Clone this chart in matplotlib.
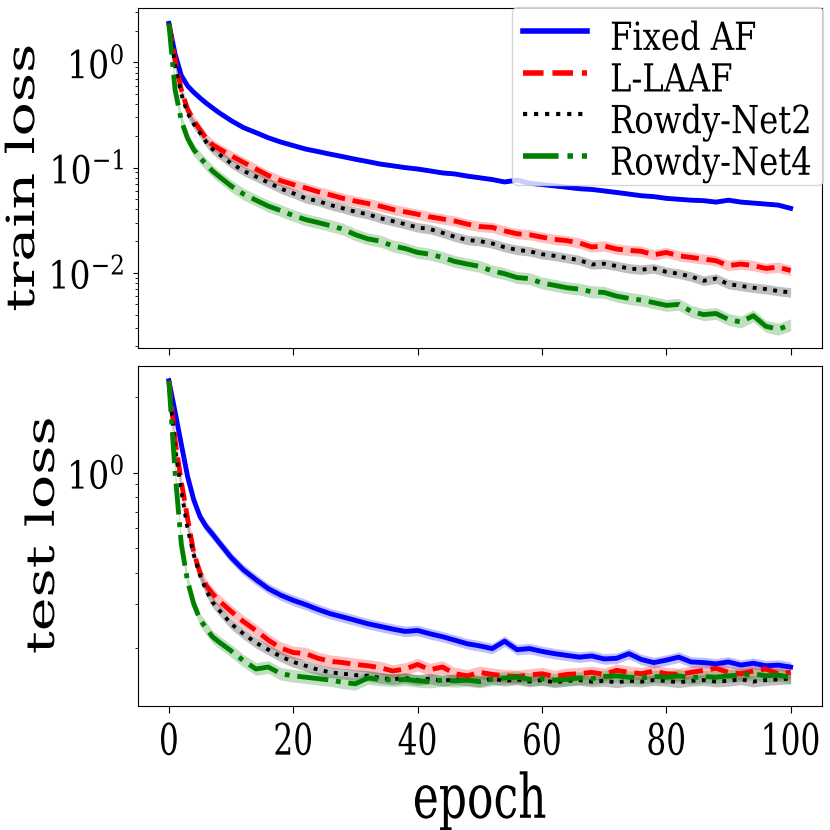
import numpy as np
import matplotlib
matplotlib.use("Agg")
import matplotlib.pyplot as plt
from matplotlib.patheffects import AbstractPathEffect
from matplotlib.transforms import Affine2D

plt.rcParams["font.family"] = "DejaVu Serif"
plt.rcParams["mathtext.fontset"] = "dejavuserif"

# epochs at which the losses were read
epochs = [0, 1, 2, 3, 4, 5, 6, 7, 8] + list(range(10, 101, 2))

labels = ["Fixed AF", "L-LAAF", "Rowdy-Net2", "Rowdy-Net4"]
colors = ["blue", "red", "black", "green"]
styles = ["-", "--", ":", "-."]

train_fixed = [2.35, 1.20, 0.75, 0.60, 0.52, 0.46, 0.41, 0.37, 0.335,
               0.28, 0.24, 0.215, 0.192, 0.175, 0.162, 0.150, 0.142, 0.134, 0.127,
               0.120, 0.114, 0.108, 0.104, 0.100, 0.097, 0.093, 0.089, 0.087, 0.083,
               0.080, 0.077, 0.073, 0.076, 0.071, 0.069, 0.067, 0.065, 0.063, 0.062,
               0.060, 0.058, 0.056, 0.054, 0.053, 0.051, 0.050, 0.049, 0.0485, 0.047,
               0.049, 0.047, 0.046, 0.045, 0.044, 0.041]
train_llaaf = [2.35, 1.05, 0.55, 0.36, 0.28, 0.23, 0.19, 0.165, 0.152,
               0.130, 0.112, 0.097, 0.084, 0.075, 0.069, 0.064, 0.059, 0.055, 0.051,
               0.048, 0.0455, 0.043, 0.040, 0.038, 0.036, 0.034, 0.0325, 0.031, 0.029,
               0.0275, 0.027, 0.025, 0.0235, 0.023, 0.0218, 0.0208, 0.0202, 0.0192, 0.0176,
               0.0180, 0.0168, 0.0163, 0.0160, 0.0148, 0.0156, 0.0145, 0.0140, 0.0135, 0.0130,
               0.0117, 0.0121, 0.0117, 0.0110, 0.0113, 0.0105]
train_rowdy2 = [2.35, 0.95, 0.50, 0.33, 0.26, 0.215, 0.175, 0.150, 0.135,
                0.110, 0.093, 0.082, 0.072, 0.063, 0.057, 0.051, 0.048, 0.044, 0.041,
                0.038, 0.036, 0.033, 0.031, 0.029, 0.027, 0.026, 0.024, 0.022, 0.0205,
                0.020, 0.019, 0.0175, 0.0165, 0.0160, 0.0150, 0.0145, 0.0138, 0.0132, 0.0120,
                0.0122, 0.0116, 0.0110, 0.0107, 0.0110, 0.0102, 0.0098, 0.0092, 0.0084, 0.0088,
                0.0078, 0.0075, 0.0072, 0.0070, 0.0067, 0.0065]
train_rowdy4 = [2.35, 0.55, 0.28, 0.19, 0.148, 0.125, 0.107, 0.093, 0.083,
                0.067, 0.056, 0.049, 0.043, 0.039, 0.035, 0.032, 0.030, 0.028, 0.026,
                0.023, 0.021, 0.020, 0.018, 0.017, 0.0156, 0.015, 0.0140, 0.0128, 0.0121,
                0.0115, 0.0104, 0.0098, 0.0090, 0.0088, 0.0080, 0.0076, 0.0072, 0.0070, 0.0066,
                0.0065, 0.0060, 0.0057, 0.0055, 0.0052, 0.0049, 0.0050, 0.0043, 0.0040, 0.0041,
                0.0036, 0.0034, 0.0039, 0.0031, 0.0029, 0.0032]

test_fixed = [2.33, 1.75, 1.30, 0.97, 0.78, 0.67, 0.61, 0.57, 0.53,
              0.46, 0.41, 0.375, 0.345, 0.325, 0.31, 0.298, 0.285, 0.274, 0.266,
              0.258, 0.250, 0.244, 0.238, 0.233, 0.235, 0.228, 0.222, 0.215, 0.208,
              0.204, 0.199, 0.213, 0.197, 0.199, 0.194, 0.190, 0.187, 0.184, 0.186,
              0.181, 0.182, 0.190, 0.180, 0.175, 0.179, 0.184, 0.176, 0.175, 0.173,
              0.176, 0.171, 0.174, 0.170, 0.171, 0.168]
test_llaaf = [2.33, 1.35, 0.92, 0.66, 0.48, 0.40, 0.355, 0.33, 0.31,
              0.280, 0.255, 0.235, 0.215, 0.200, 0.192, 0.190, 0.182, 0.177, 0.175,
              0.172, 0.170, 0.167, 0.162, 0.165, 0.172, 0.164, 0.168, 0.158, 0.155,
              0.160, 0.157, 0.155, 0.154, 0.156, 0.158, 0.154, 0.157, 0.158, 0.160,
              0.157, 0.163, 0.160, 0.158, 0.162, 0.158, 0.157, 0.160, 0.163, 0.166,
              0.160, 0.158, 0.162, 0.165, 0.158, 0.160]
test_rowdy2 = [2.33, 1.25, 0.85, 0.60, 0.47, 0.39, 0.34, 0.305, 0.285,
               0.250, 0.228, 0.210, 0.197, 0.185, 0.176, 0.170, 0.164, 0.160, 0.158,
               0.156, 0.155, 0.152, 0.150, 0.152, 0.149, 0.151, 0.148, 0.150, 0.149,
               0.147, 0.151, 0.148, 0.150, 0.147, 0.149, 0.146, 0.148, 0.149, 0.147,
               0.148, 0.146, 0.148, 0.147, 0.149, 0.148, 0.146, 0.148, 0.149, 0.147,
               0.148, 0.150, 0.147, 0.149, 0.150, 0.151]
test_rowdy4 = [2.33, 1.00, 0.52, 0.37, 0.30, 0.26, 0.24, 0.222, 0.212,
               0.195, 0.178, 0.165, 0.168, 0.158, 0.155, 0.153, 0.151, 0.149, 0.146,
               0.144, 0.152, 0.150, 0.149, 0.150, 0.148, 0.147, 0.149, 0.148, 0.149,
               0.147, 0.150, 0.152, 0.153, 0.150, 0.151, 0.149, 0.150, 0.152, 0.151,
               0.154, 0.155, 0.153, 0.152, 0.154, 0.153, 0.155, 0.152, 0.154, 0.153,
               0.155, 0.156, 0.158, 0.155, 0.156, 0.153]

# relative half-width of the shaded spread around each mean curve
train_spread = [0.04, 0.12, 0.11, 0.14]
test_spread = [0.05, 0.06, 0.05, 0.06]


class Stretch(AbstractPathEffect):
    """rescale the glyphs of a text (in its own frame) about an anchor"""
    def __init__(self, sx=1.0, sy=1.0, anchor="baseline", offset=(0, 0)):
        super().__init__(offset)
        self.sx = sx
        self.sy = sy
        self.anchor = anchor

    def draw_path(self, renderer, gc, tpath, affine, rgbFace=None):
        v = tpath.vertices
        if len(v) == 0:
            return
        cx = (v[:, 0].min() + v[:, 0].max()) / 2
        if self.anchor == "top":
            cy = v[:, 1].max()
        elif self.anchor == "center":
            cy = (v[:, 1].min() + v[:, 1].max()) / 2
        else:
            cy = 0.0
        st = Affine2D().translate(-cx, -cy).scale(self.sx, self.sy).translate(cx, cy)
        renderer.draw_path(gc, tpath, st + affine + self._offset_transform(renderer),
                           rgbFace)


fig, (ax1, ax2) = plt.subplots(2, 1, sharex=True, figsize=(8.3, 8.3), dpi=100)
fig.subplots_adjust(left=0.166, right=0.990, top=0.990, bottom=0.150, hspace=0.053)

x = np.array(epochs)
train = [train_fixed, train_llaaf, train_rowdy2, train_rowdy4]
test = [test_fixed, test_llaaf, test_rowdy2, test_rowdy4]

for ax, data, spread in [(ax1, train, train_spread), (ax2, test, test_spread)]:
    for i in range(4):
        y = np.array(data[i])
        lw = 2.8 if styles[i] == ":" else 3.5
        ax.fill_between(x, y / (1 + spread[i]), y * (1 + spread[i]),
                        color=colors[i], alpha=0.25, lw=0)
        ax.plot(x, y, styles[i], color=colors[i], lw=lw, label=labels[i])
    ax.set_yscale("log")
    ax.tick_params(axis="y", labelsize=23.8, pad=6)
    ax.tick_params(axis="x", labelsize=22.5, length=5.3, pad=6.3)

ax1.set_ylim(0.00193, 3.27)
ax2.set_ylim(0.118, 2.67)
ax2.set_xlim(-5, 105)
ax2.set_xticks([0, 20, 40, 60, 80, 100])

ax1.set_ylabel("train loss", fontsize=27.9)
ax2.set_ylabel("test loss", fontsize=27.9)
ax1.yaxis.set_label_coords(-0.140, 0.5)
ax2.yaxis.set_label_coords(-0.111, 0.5)
ax2.set_xlabel("epoch", fontsize=31.7)
ax2.xaxis.set_label_coords(0.5, -0.230)

leg = ax1.legend(loc="upper right", bbox_to_anchor=(1.002, 1.004), borderaxespad=0,
                 fontsize=23.2, labelspacing=0.33, handlelength=2.0,
                 handletextpad=0.7, borderpad=0.35)
for t in leg.get_texts():
    t.set_path_effects([Stretch(sy=1.2, anchor="baseline", offset=(0, -5.5))])
for h in leg.get_lines():
    h.set_linewidth(4.0 if h.get_linestyle() != ":" else 3.0)

fig.canvas.draw()
for t in ax2.get_xticklabels():
    t.set_path_effects([Stretch(sy=1.39, anchor="top")])
ax2.xaxis.label.set_path_effects([Stretch(sy=1.39, anchor="baseline")])
for ax in (ax1, ax2):
    for t in ax.get_yticklabels():
        t.set_path_effects([Stretch(sy=1.17, anchor="center")])
    ax.yaxis.label.set_path_effects([Stretch(sx=1.47, anchor="baseline")])

fig.savefig("out.png", dpi=100)
